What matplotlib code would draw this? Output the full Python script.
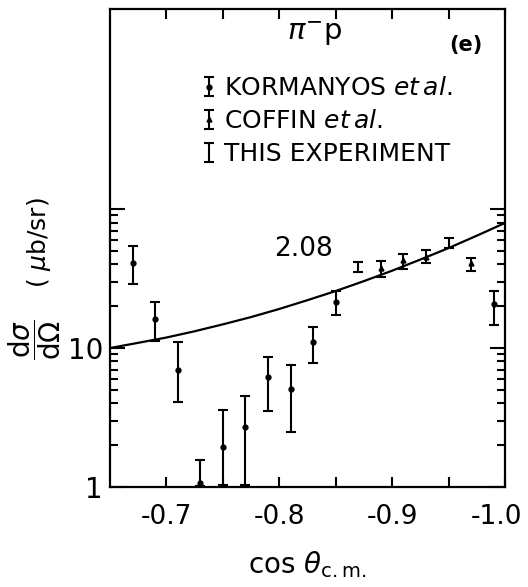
import numpy as np
import matplotlib
matplotlib.use('Agg')
from matplotlib import pyplot as plt
from matplotlib import transforms
from matplotlib.ticker import FixedLocator, NullFormatter
from matplotlib.legend_handler import HandlerErrorbar

plt.rcParams['font.family'] = ['DejaVu Sans']
plt.rcParams['mathtext.fontset'] = 'dejavusans'
plt.rcParams['axes.unicode_minus'] = False

# KORMANYOS et al. (圆点)
cos_kor = [-0.67, -0.69, -0.71, -0.73, -0.75, -0.77, -0.79, -0.81, -0.83, -0.85, -0.99]
sig_kor = [40.7, 16.1, 7.0, 1.07, 1.95, 2.7, 6.2, 5.1, 11.0, 21.4, 20.6]
hi_kor = [54.4, 21.3, 11.0, 1.56, 3.58, 4.52, 8.66, 7.5, 14.2, 25.7, 25.7]
lo_kor = [28.7, 11.3, 4.1, 1.02, 1.03, 1.03, 3.52, 2.5, 7.74, 17.2, 14.6]

# COFFIN et al. (三角)
cos_cof = [-0.89, -0.91, -0.93, -0.97]
sig_cof = [37.5, 43.0, 45.4, 40.7]
hi_cof = [42.5, 47.2, 50.5, 44.4]
lo_cof = [32.6, 36.8, 41.1, 36.0]

# THIS EXPERIMENT (无标记)
cos_this = [-0.87, -0.95]
sig_this = [38.1, 57.6]
hi_this = [41.8, 61.8]
lo_this = [35.1, 52.4]

# 拟合曲线 (2.08)
cos_fit = [-0.65, -0.675, -0.70, -0.725, -0.75, -0.775, -0.80, -0.825, -0.85,
           -0.875, -0.90, -0.925, -0.95, -0.975, -1.0]
sig_fit = [10.0, 10.9, 11.9, 13.2, 14.8, 16.7, 19.1, 22.1, 25.7,
           30.3, 36.0, 43.3, 52.4, 64.3, 79.4]

fig = plt.figure(figsize=(5.28, 5.87), dpi=100)
ax = fig.add_axes([0.2083, 0.1704, 0.748, 0.8143])

ax.plot(cos_fit, sig_fit, color='black', lw=1.6)


def draw(cs, s, hi, lo, marker, ms, label):
    s = np.array(s)
    yerr = [s - np.array(lo), np.array(hi) - s]
    return ax.errorbar(cs, s, yerr=yerr, fmt=marker, color='black', ms=ms,
                       elinewidth=1.5, capsize=3.5, capthick=1.5, label=label)


h1 = draw(cos_kor, sig_kor, hi_kor, lo_kor, 'o', 3.5, 'KORMANYOS $\\it{et\\,al.}$')
h2 = draw(cos_cof, sig_cof, hi_cof, lo_cof, '^', 3.5, 'COFFIN $\\it{et\\,al.}$')
h3 = draw(cos_this, sig_this, hi_this, lo_this, 'none', 0, 'THIS EXPERIMENT')

ax.set_yscale('log')
ax.set_xlim(-0.65, -1.0)
ax.set_ylim(1, 10 ** 3.44)

ax.yaxis.set_major_locator(FixedLocator([1, 10, 100]))
ax.yaxis.set_minor_locator(FixedLocator([2, 3, 4, 5, 6, 7, 8, 9,
                                         20, 30, 40, 50, 60, 70, 80, 90]))
ax.set_yticklabels(['1', '10', ''])
ax.yaxis.set_minor_formatter(NullFormatter())

ax.xaxis.set_major_locator(FixedLocator([-0.7, -0.8, -0.9, -1.0]))
ax.xaxis.set_minor_locator(FixedLocator([-0.75, -0.85, -0.95]))
ax.set_xticklabels(['-0.7', '-0.8', '-0.9', '-1.0'])

ax.tick_params(which='both', direction='in', top=True, right=True, width=1.5)
ax.tick_params(axis='y', which='major', length=11, labelsize=20, pad=5)
ax.tick_params(axis='y', which='minor', length=6)
ax.tick_params(axis='x', which='both', length=7, labelsize=19, pad=12)
for sp in ax.spines.values():
    sp.set_linewidth(1.6)

# 最右侧刻度标签稍微左移, 避免被裁掉
last = ax.get_xticklabels()[-1]
last.set_transform(last.get_transform()
                   + transforms.ScaledTranslation(-6 / 72, 0, fig.dpi_scale_trans))

ax.set_xlabel(r'cos $\theta_{\mathregular{c.m.}}$', fontsize=20, labelpad=14)

fig.text(0.066, 0.421, r'$\dfrac{\mathregular{d}\sigma}{\mathregular{d}\Omega}$',
         rotation=90, fontsize=20, ha='center', va='center')
fig.text(0.074, 0.587, r'( $\mu$b/sr)', rotation=90, fontsize=18,
         ha='center', va='center')

ax.text(0.519, 0.948, r'$\pi^{-}$p', transform=ax.transAxes, fontsize=21,
        ha='center', va='center')
ax.text(0.901, 0.925, '(e)', transform=ax.transAxes, fontsize=15,
        fontweight='bold', ha='center', va='center')
ax.text(0.489, 0.498, '2.08', transform=ax.transAxes, fontsize=19,
        ha='center', va='center')

ax.legend(handles=[h1, h2, h3], loc='upper left', bbox_to_anchor=(0.2, 0.885),
          frameon=False, fontsize=18, handlelength=0.6, handletextpad=0.3,
          labelspacing=0.35, borderpad=0,
          handler_map={type(h1): HandlerErrorbar(xerr_size=0.3, yerr_size=0.38)})

fig.savefig('out.png', dpi=100)
